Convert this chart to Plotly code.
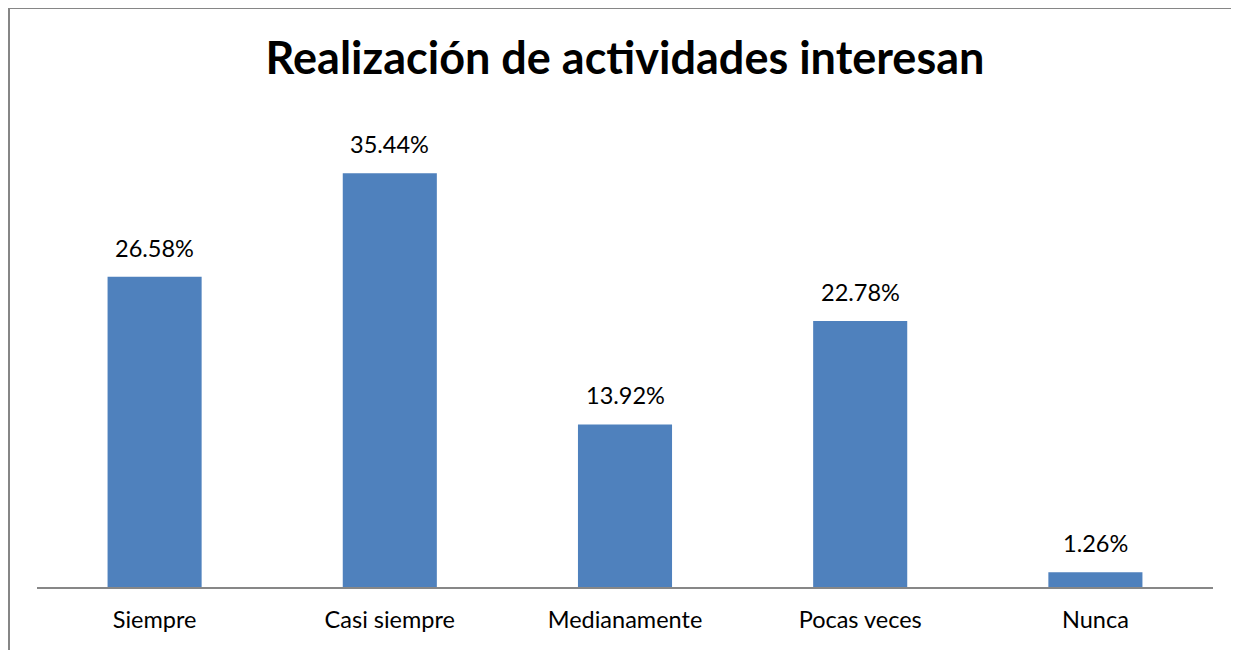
import plotly.graph_objects as go

categories = ["Siempre", "Casi siempre", "Medianamente", "Pocas veces", "Nunca"]
values = [26.58, 35.44, 13.92, 22.78, 1.26]
labels = ["26.58%", "35.44%", "13.92%", "22.78%", "1.26%"]

# page has an 8px body margin
W, H = 1231, 642
L, R, T, B = 29, 26, 112, 63
pw, ph = W - L - R, H - T - B

fig = go.Figure(go.Bar(
    x=categories, y=values, marker=dict(color="#4F81BD", line=dict(width=0)),
    width=0.4, hoverinfo="skip"))

for c, v, t in zip(categories, values, labels):
    fig.add_annotation(x=c, y=v, text=t, showarrow=False, yanchor="bottom",
                       yshift=13, font=dict(size=23.5, color="#000", family="Lato"))

def px_x(p):
    return (p - L) / pw

def px_y(p):
    return (H - B - p) / ph

border = dict(color="#868686", width=2)
fig.add_shape(type="line", xref="paper", yref="paper",
              x0=px_x(1), x1=px_x(1), y0=px_y(H + 20), y1=px_y(0), line=border)
fig.add_shape(type="line", xref="paper", yref="paper",
              x0=px_x(0), x1=px_x(W + 20), y0=px_y(0), y1=px_y(0), line=border)

fig.update_layout(
    width=W, height=H, margin=dict(l=L, r=R, t=T, b=B),
    paper_bgcolor="white", plot_bgcolor="white",
    title=dict(text="<b>Realización de actividades interesan</b>", x=0.5, xref="paper",
               y=1 - 50 / H, yanchor="middle", yref="container",
               font=dict(size=45, family="Lato", color="#000")),
    xaxis=dict(showline=True, linecolor="#878787", linewidth=2, ticks="", showgrid=False,
               tickfont=dict(size=23.5, family="Lato", color="#000"), ticklabelstandoff=11),
    yaxis=dict(range=[0, 40], visible=False, showgrid=False),
    showlegend=False, bargap=0.6,
)

fig.write_html("out.html")
